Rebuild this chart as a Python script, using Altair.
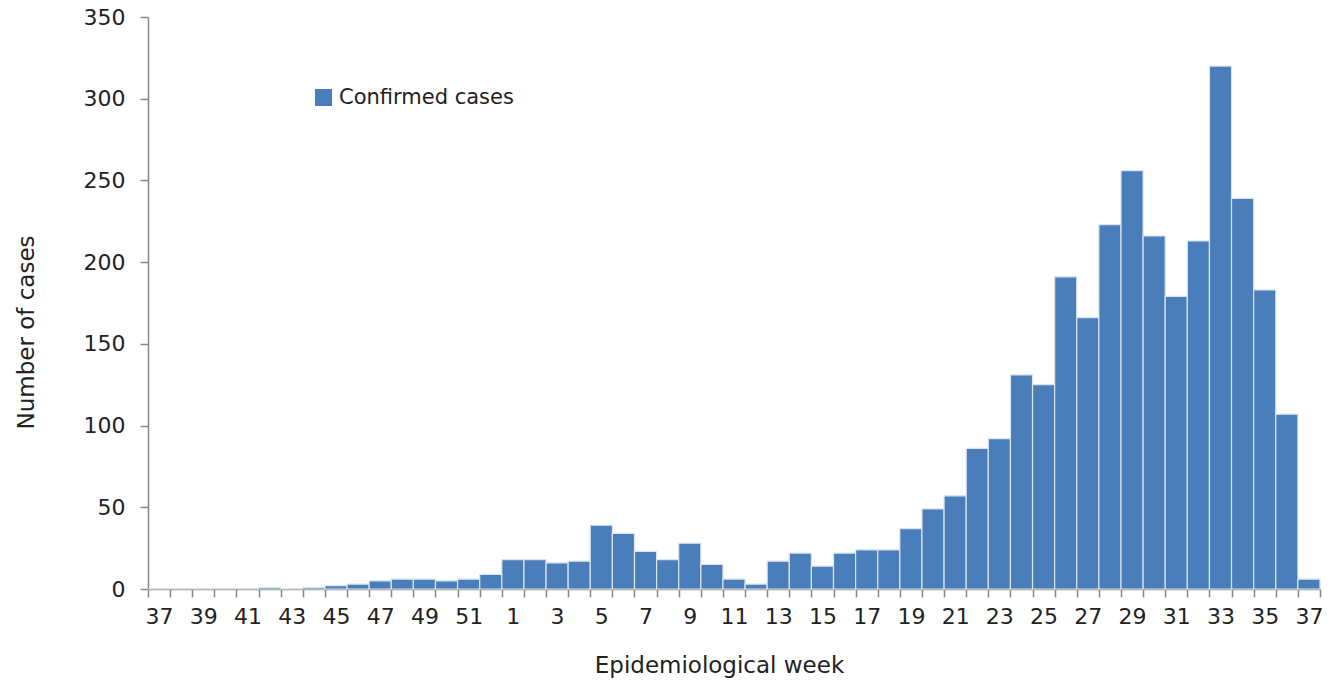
import altair as alt
import pandas as pd

weeks = [37, 38, 39, 40, 41, 42, 43, 44, 45, 46, 47, 48, 49, 50, 51, 52,
         1, 2, 3, 4, 5, 6, 7, 8, 9, 10, 11, 12, 13, 14, 15, 16, 17, 18, 19, 20,
         21, 22, 23, 24, 25, 26, 27, 28, 29, 30, 31, 32, 33, 34, 35, 36, 37]
cases = [0, 0, 0, 0, 0, 1, 0, 1, 2, 3, 5, 6, 6, 5, 6, 9,
         18, 18, 16, 17, 39, 34, 23, 18, 28, 15, 6, 3, 17, 22, 14, 22, 24, 24, 37, 49,
         57, 86, 92, 131, 125, 191, 166, 223, 256, 216, 179, 213, 320, 239, 183, 107, 6]
y_ticks = [0, 50, 100, 150, 200, 250, 300, 350]
series_name = "Confirmed cases"

df = pd.DataFrame({
    "idx": list(range(len(weeks))),
    "week": weeks,
    "cases": cases,
    "series": [series_name] * len(weeks),
})

FONT = "DejaVu Sans"
arr = "[" + ",".join("'%d'" % w for w in weeks) + "]"
label_expr = "datum.value % 2 == 0 ? " + arr + "[datum.value] : ''"

chart = alt.Chart(df).mark_bar(
    stroke="#dce4ee", strokeWidth=1.2
).encode(
    x=alt.X("idx:O",
            scale=alt.Scale(paddingInner=0, paddingOuter=0),
            axis=alt.Axis(title="Epidemiological week", tickBand="extent",
                          labelExpr=label_expr, labelAngle=0, labelOverlap=False,
                          labelFont=FONT, labelFontSize=22, labelColor="#222222",
                          labelPadding=9, tickSize=8, tickColor="#888888",
                          domainColor="#888888", tickWidth=1.5, domainWidth=1.5,
                          titleFont=FONT, titleFontSize=23, titleFontWeight="normal",
                          titleColor="#222222", titleX=571, titleY=76,
                          titleBaseline="middle")),
    y=alt.Y("cases:Q",
            scale=alt.Scale(domain=[0, 350], nice=False),
            axis=alt.Axis(title="Number of cases", values=y_ticks, grid=False,
                          labelFont=FONT, labelFontSize=22, labelColor="#222222",
                          labelPadding=15, tickSize=8, tickColor="#888888",
                          domainColor="#888888", tickWidth=1.5, domainWidth=1.5,
                          titleFont=FONT, titleFontSize=23, titleFontWeight="normal",
                          titleColor="#222222", titleX=-122, titleY=315,
                          titleAngle=270, titleBaseline="middle", titleAlign="center")),
    color=alt.Color("series:N", scale=alt.Scale(range=["#4a7ebb"]),
                    legend=alt.Legend(title=None, orient="none", legendX=165, legendY=70,
                                      padding=0, symbolType="square", symbolSize=289,
                                      symbolStrokeWidth=0, labelFont=FONT,
                                      labelFontSize=21, labelColor="#222222",
                                      labelOffset=5, labelLimit=0)),
).properties(
    width=1172, height=572,
    autosize=alt.AutoSizeParams(type="none"),
    padding={"left": 148, "top": 17, "right": 12, "bottom": 92},
).configure_view(stroke=None)

chart.save("out.html", embed_options={"renderer": "svg", "actions": False})
